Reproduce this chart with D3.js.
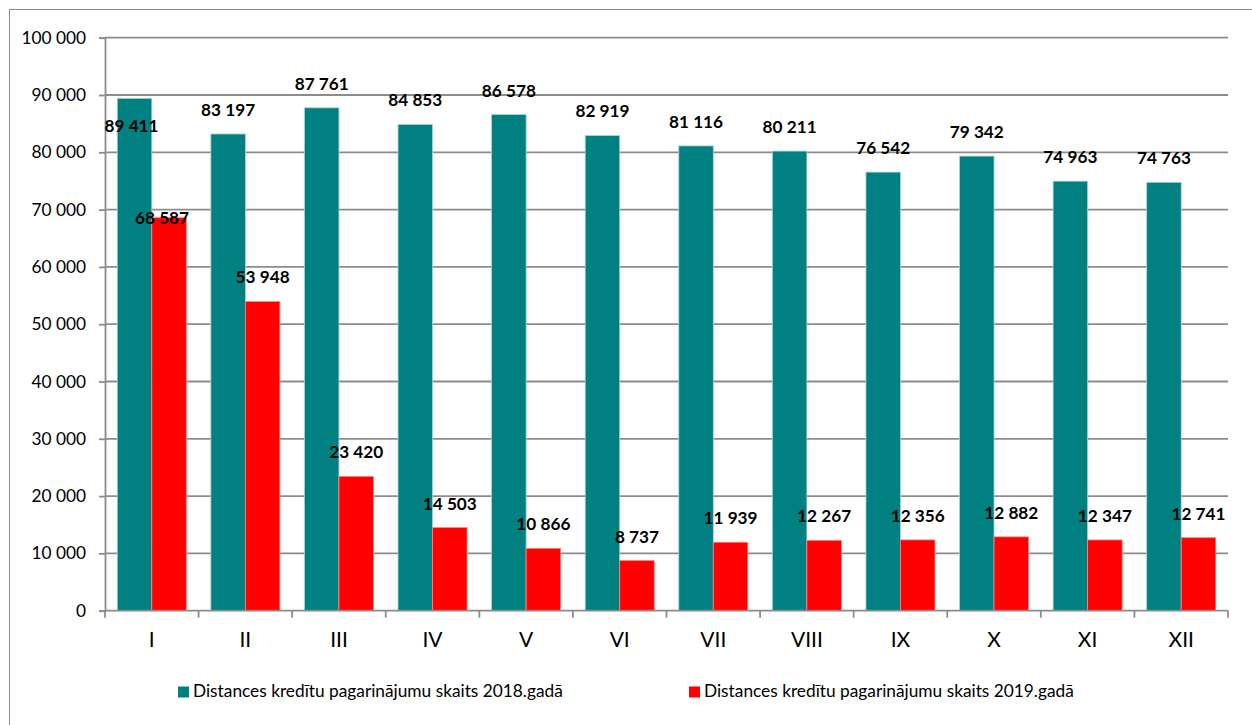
<!DOCTYPE html>
<html>
<head>
<meta charset="utf-8">
<script src="https://cdn.jsdelivr.net/npm/d3@7"></script>
<style>
  html, body { margin: 0; padding: 0; background: #fff; }
  svg { display: block; }
  text { font-family: Lato, "Open Sans", sans-serif; fill: #000; }
</style>
</head>
<body>
<svg id="chart" width="1252" height="725"></svg>
<script>
// ---- Data ----
const categories = ["I", "II", "III", "IV", "V", "VI", "VII", "VIII", "IX", "X", "XI", "XII"];
const series2018 = [89411, 83197, 87761, 84853, 86578, 82919, 81116, 80211, 76542, 79342, 74963, 74763];
const series2019 = [68587, 53948, 23420, 14503, 10866, 8737, 11939, 12267, 12356, 12882, 12347, 12741];
const seriesNames = ["Distances kredītu pagarinājumu skaits 2018.gadā", "Distances kredītu pagarinājumu skaits 2019.gadā"];
const yTicks = [0, 10000, 20000, 30000, 40000, 50000, 60000, 70000, 80000, 90000, 100000];

// ---- Layout / style (separate from data) ----
const colors = ["#008080", "#FF0000"];
const plot = { left: 105, right: 1228, top: 37.7, bottom: 610.7 };
// manual label nudges (px) for the first month where labels were moved
const labelNudge2018 = [{dx: -3, dy: 52}];
const labelNudge2019 = [{dx: -7, dy: 24}];

const svg = d3.select("#chart");

// outer frame (only left/top visible in the reference)
svg.append("rect").attr("x", 9.5).attr("y", 9.5).attr("width", 1400).attr("height", 900)
  .attr("fill", "none").attr("stroke", "#8c8c8c").attr("stroke-width", 1);

const x0 = d3.scaleBand().domain(categories).range([plot.left, plot.right]).paddingInner(0).paddingOuter(0);
const x1 = d3.scaleBand().domain([0, 1]).range([0, x0.bandwidth()]).paddingInner(0).paddingOuter(0.356);
const y = d3.scaleLinear().domain([0, 100000]).range([plot.bottom, plot.top]);

const fmt = v => d3.format(",")(v).replace(/,/g, " ");

// gridlines
svg.append("g").selectAll("line").data(yTicks.filter(t => t > 0)).join("line")
  .attr("x1", plot.left).attr("x2", plot.right)
  .attr("y1", d => y(d)).attr("y2", d => y(d))
  .attr("stroke", "#8c8c8c").attr("stroke-width", 1.8);

// y axis
const yAxis = d3.axisLeft(y).tickValues(yTicks).tickFormat(fmt).tickSize(6).tickPadding(13);
const gy = svg.append("g").attr("transform", `translate(${plot.left},0)`).call(yAxis);
gy.select(".domain").attr("stroke", "#8c8c8c").attr("stroke-width", 1.8);
gy.selectAll(".tick line").attr("stroke", "#8c8c8c").attr("stroke-width", 1.8);
gy.selectAll(".tick text").style("font-size", "17.3px").style("font-family", "Lato, sans-serif").attr("fill", "#000");

// bars
const groups = svg.append("g").selectAll("g").data(categories).join("g")
  .attr("transform", d => `translate(${x0(d)},0)`);

const allSeries = [series2018, series2019];
allSeries.forEach((vals, si) => {
  groups.append("rect")
    .attr("x", x1(si))
    .attr("width", x1.bandwidth())
    .attr("y", (d, i) => y(vals[i]))
    .attr("height", (d, i) => y(0) - y(vals[i]))
    .attr("fill", colors[si])
    .attr("stroke", si === 0 ? "#a8d4d4" : "#ff8080")
    .attr("stroke-width", 0.8);
});

// x axis
const gx = svg.append("g").attr("transform", `translate(0,${plot.bottom})`);
gx.append("line").attr("x1", plot.left).attr("x2", plot.right).attr("y1", 0).attr("y2", 0)
  .attr("stroke", "#8c8c8c").attr("stroke-width", 1.8);
const boundaries = categories.map(c => x0(c)).concat([plot.right]);
gx.selectAll("line.tk").data(boundaries).join("line").attr("class", "tk")
  .attr("x1", d => d).attr("x2", d => d).attr("y1", 0).attr("y2", 7)
  .attr("stroke", "#8c8c8c").attr("stroke-width", 1.8);
gx.selectAll("text").data(categories).join("text")
  .attr("x", d => x0(d) + x0.bandwidth() / 2)
  .attr("y", 31)
  .attr("text-anchor", "middle").attr("dominant-baseline", "middle")
  .style("font-size", "21px")
  .text(d => d);

// data labels
const nudges = [labelNudge2018, labelNudge2019];
allSeries.forEach((vals, si) => {
  svg.append("g").selectAll("text").data(categories).join("text")
    .attr("x", (d, i) => x0(d) + x1(si) + x1.bandwidth() / 2 + ((nudges[si][i] || {}).dx || 0))
    .attr("y", (d, i) => y(vals[i]) - 22.5 + ((nudges[si][i] || {}).dy || 0))
    .attr("text-anchor", "middle").attr("dominant-baseline", "middle")
    .style("font-size", "17.2px").style("font-weight", "bold")
    .text((d, i) => fmt(vals[i]));
});

// legend
const legendItems = [{x: 178, name: seriesNames[0], color: colors[0]}, {x: 689, name: seriesNames[1], color: colors[1]}];
const lg = svg.append("g").selectAll("g").data(legendItems).join("g")
  .attr("transform", d => `translate(${d.x},686.5)`);
lg.append("rect").attr("width", 11).attr("height", 11).attr("fill", d => d.color);
lg.append("text").attr("x", 15).attr("y", 6).attr("dominant-baseline", "middle")
  .style("font-size", "17.3px").text(d => d.name);
</script>
</body>
</html>
